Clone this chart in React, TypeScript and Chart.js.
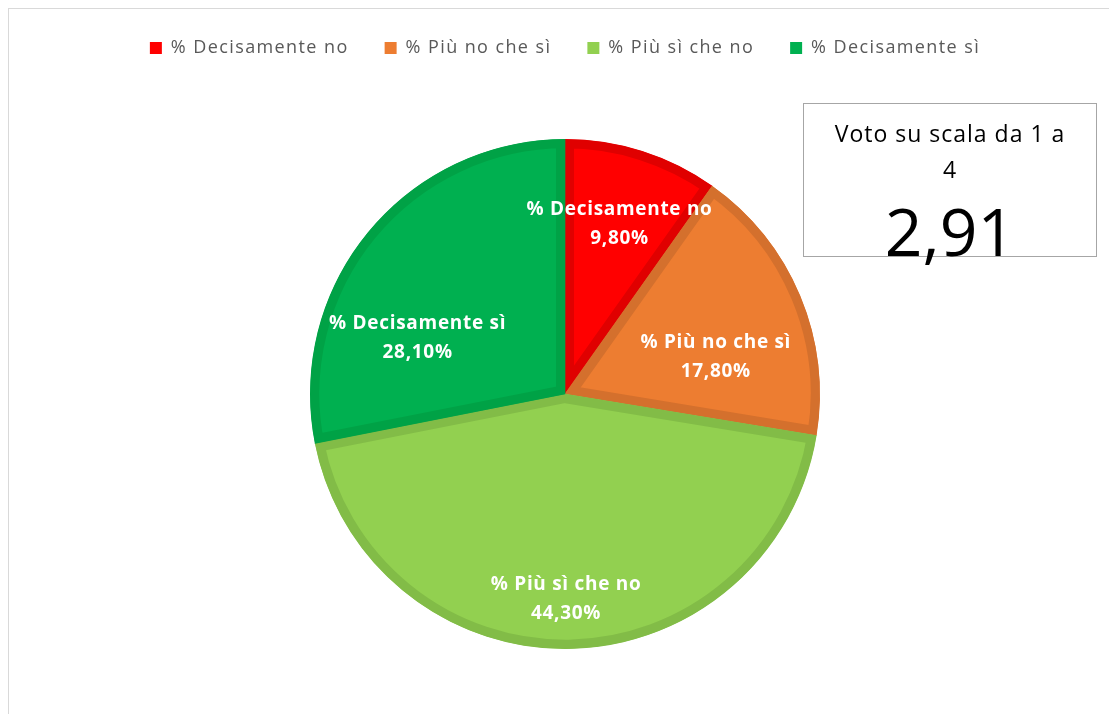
import React, { useEffect, useRef } from 'react';
import { Chart, registerables } from 'chart.js';

Chart.register(...registerables);

const categories = ['% Decisamente no', '% Più no che sì', '% Più sì che no', '% Decisamente sì'];
const values = [9.8, 17.8, 44.3, 28.1];
const fillColors = ['#FF0000', '#ED7D31', '#92D050', '#00B050'];
const borderColors = ['#E00000', '#D4702D', '#82BC47', '#00A246'];
const labelDistance = [0.706, 0.61, 0.8, 0.62];
const labelAngleShift = [0, 8.5, 0.6, -18.2];
const scoreTitleLines = ['Voto su scala da 1 a', '4'];
const scoreValue = '2,91';

const fmt = (v: number) => v.toFixed(2).replace('.', ',') + '%';

const legendSpacing = '1.4px';

const legendSpace = {
  id: 'legendSpace',
  beforeInit(chart: any) {
    const legend = chart.legend;
    if (!legend) return;
    const orig = legend.fit;
    legend.fit = function () {
      const ctx = this.ctx;
      const prev = ctx.letterSpacing;
      ctx.letterSpacing = legendSpacing;
      orig.call(this);
      ctx.letterSpacing = prev || '0px';
      this.height = 137;
    };
    const origDraw = legend.draw;
    legend.draw = function (...args: any[]) {
      const ctx = this.ctx;
      ctx.save();
      ctx.letterSpacing = legendSpacing;
      origDraw.apply(this, args);
      ctx.restore();
    };
  },
};

const sliceLabels = {
  id: 'sliceLabels',
  afterDatasetsDraw(chart: any) {
    const ctx = chart.ctx;
    const meta = chart.getDatasetMeta(0);
    ctx.save();
    ctx.fillStyle = '#FFFFFF';
    ctx.font = 'bold 19px "Open Sans"';
    ctx.letterSpacing = '0.7px';
    ctx.textAlign = 'center';
    ctx.textBaseline = 'middle';
    meta.data.forEach((arc: any, i: number) => {
      const p = arc.getProps(['x', 'y', 'startAngle', 'endAngle', 'outerRadius'], true);
      const mid = (p.startAngle + p.endAngle) / 2 + (labelAngleShift[i] * Math.PI) / 180;
      const r = p.outerRadius * labelDistance[i];
      const cx = p.x + Math.cos(mid) * r;
      const cy = p.y + Math.sin(mid) * r + 1.5;
      ctx.fillText(categories[i], cx, cy - 14.5);
      ctx.fillText(fmt(values[i]), cx, cy + 14.5);
    });
    ctx.restore();
  },
};

export default function App() {
  const ref = useRef<HTMLCanvasElement | null>(null);

  useEffect(() => {
    if (!ref.current) return;
    const chart = new Chart(ref.current, {
      type: 'pie',
      data: {
        labels: categories,
        datasets: [
          {
            data: values,
            backgroundColor: fillColors,
            borderColor: borderColors,
            borderWidth: 9,
            borderAlign: 'inner',
            borderJoinStyle: 'miter',
          } as any,
        ],
      },
      options: {
        animation: false,
        responsive: false,
        maintainAspectRatio: false,
        radius: 255,
        layout: { padding: { left: 21, right: 0, top: 3, bottom: 66 } },
        plugins: {
          tooltip: { enabled: false },
          legend: {
            position: 'top',
            labels: {
              boxWidth: 12,
              boxHeight: 12,
              padding: 36,
              color: '#595959',
              font: { family: '"Open Sans"', size: 18 },
              generateLabels: () =>
                categories.map((c, i) => ({
                  text: c,
                  fillStyle: fillColors[i],
                  strokeStyle: fillColors[i],
                  lineWidth: 0,
                  hidden: false,
                  index: i,
                  fontColor: '#595959',
                })),
            },
          },
        },
      } as any,
      plugins: [legendSpace, sliceLabels],
    });
    return () => chart.destroy();
  }, []);

  return (
    <div style={{ position: 'fixed', left: 0, top: 0, width: 1109, height: 714, overflow: 'hidden', background: '#fff' }}>
      <div
        style={{
          position: 'absolute',
          left: 8,
          top: 8,
          width: 1200,
          height: 800,
          border: '1px solid #d9d9d9',
        }}
      />
      <canvas ref={ref} width={1109} height={714} style={{ position: 'absolute', left: 0, top: 0, width: 1109, height: 714 }} />
      <div
        style={{
          position: 'absolute',
          left: 803,
          top: 103,
          width: 294,
          height: 154,
          boxSizing: 'border-box',
          border: '1px solid #a6a6a6',
          background: '#fff',
          fontFamily: '"Open Sans"',
          color: '#000',
        }}
      >
        <div
          style={{
            position: 'absolute',
            left: 0,
            width: '100%',
            top: 11,
            textAlign: 'center',
            fontSize: 23,
            letterSpacing: '1px',
            lineHeight: '36px',
          }}
        >
          {scoreTitleLines.map((l) => (
            <div key={l}>{l}</div>
          ))}
        </div>
      </div>
      <div
        style={{
          position: 'absolute',
          left: 803,
          width: 294,
          top: 188,
          textAlign: 'center',
          fontFamily: '"Open Sans"',
          fontSize: 66,
          lineHeight: '84px',
          color: '#000',
        }}
      >
        {scoreValue}
      </div>
    </div>
  );
}
